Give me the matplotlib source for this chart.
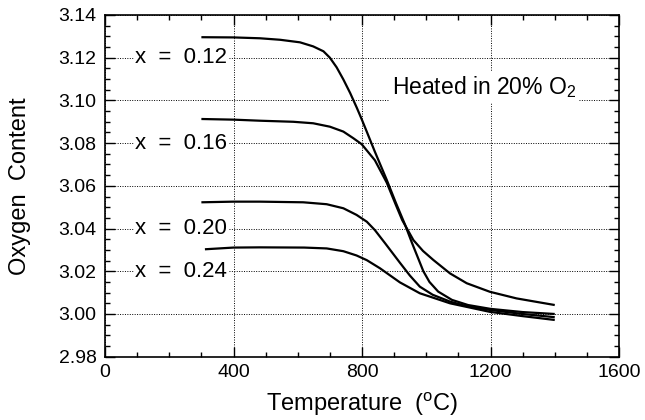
import matplotlib
matplotlib.use("Agg")
import matplotlib.pyplot as plt
from matplotlib.ticker import MultipleLocator

plt.rcParams['font.family'] = ['Liberation Sans', 'DejaVu Sans']
plt.rcParams['mathtext.fontset'] = 'custom'
plt.rcParams['mathtext.rm'] = 'Liberation Sans'
plt.rcParams['mathtext.it'] = 'Liberation Sans'

# ---- data ----
T_012 = [300, 400, 482, 545, 607, 648, 680, 700, 721, 742, 763, 784, 799, 815, 840,
         877, 905, 934, 955, 975, 991, 1010, 1037, 1080, 1130, 1200, 1300, 1400]
O_012 = [3.1296, 3.1295, 3.1291, 3.1284, 3.1272, 3.1253, 3.1230, 3.1200, 3.1155, 3.1098,
         3.1035, 3.0965, 3.0912, 3.0853, 3.0760, 3.0628, 3.0522, 3.0418, 3.0335, 3.0260,
         3.0200, 3.0150, 3.0105, 3.0066, 3.0042, 3.0024, 3.0009, 3.0000]

T_016 = [300, 400, 482, 586, 648, 700, 742, 773, 799, 840, 877, 905, 925, 960,
         990, 1022, 1074, 1126, 1198, 1281, 1350, 1400]
O_016 = [3.0913, 3.0910, 3.0905, 3.0900, 3.0893, 3.0877, 3.0854, 3.0823, 3.0795,
         3.0720, 3.0615, 3.0512, 3.0440, 3.0346, 3.0295, 3.0253, 3.0190, 3.0144, 3.0104,
         3.0073, 3.0055, 3.0042]

T_020 = [300, 400, 482, 617, 690, 742, 783, 815, 840, 872, 918, 949, 980, 1020, 1074,
         1130, 1198, 1300, 1400]
O_020 = [3.0523, 3.0526, 3.0526, 3.0523, 3.0514, 3.0495, 3.0464, 3.0432, 3.0393, 3.0331,
         3.0240, 3.0180, 3.0128, 3.0090, 3.0058, 3.0035, 3.0019, 3.0000, 2.9985]

T_024 = [311, 400, 482, 620, 690, 742, 783, 815, 856, 918, 980, 1074, 1198, 1300, 1400]
O_024 = [3.0303, 3.0311, 3.0312, 3.0311, 3.0307, 3.0294, 3.0274, 3.0252, 3.0214, 3.0148,
         3.0097, 3.0050, 3.0010, 2.9990, 2.9972]

series_labels = ["x  =  0.12", "x  =  0.16", "x  =  0.20", "x  =  0.24"]
label_y = [3.12, 3.08, 3.04, 3.02]
x_ticks = [0, 400, 800, 1200, 1600]
y_ticks = [2.98, 3.00, 3.02, 3.04, 3.06, 3.08, 3.10, 3.12, 3.14]

fig = plt.figure(figsize=(6.45, 4.2), dpi=100)
ax = fig.add_axes([0.1628, 0.1507, 0.9597 - 0.1628, 0.9643 - 0.1507])

for T, O in [(T_012, O_012), (T_016, O_016), (T_020, O_020), (T_024, O_024)]:
    ax.plot(T, O, color='black', lw=1.6, solid_capstyle='butt', zorder=3)

ax.set_xlim(0, 1600)
ax.set_ylim(2.98, 3.14)
ax.set_xticks(x_ticks)
ax.set_yticks(y_ticks)
ax.set_yticklabels([f"{v:.2f}" for v in y_ticks])
ax.xaxis.set_minor_locator(MultipleLocator(100))
ax.yaxis.set_minor_locator(MultipleLocator(0.005))
ax.tick_params(which='both', direction='in', top=True, right=True, labelsize=14, width=1.0)
ax.tick_params(which='major', length=7, pad=5)
ax.tick_params(which='minor', length=3.5)
ax.tick_params(axis='y', which='major', pad=6)
for s in ax.spines.values():
    s.set_linewidth(1.2)

ax.grid(True, which='major', ls=(0, (1, 1.5)), color='black', lw=0.7)
ax.set_axisbelow(True)

for lab, yv in zip(series_labels, label_y):
    ax.text(93, yv, lab, fontsize=16, ha='left', va='center', zorder=4,
            bbox=dict(facecolor='white', edgecolor='none', pad=1.0))

ax.text(893, 3.1029, r"Heated in 20% O$_{2}$", fontsize=16.5, ha='left', va='baseline',
        zorder=4, bbox=dict(facecolor='white', edgecolor='none', pad=2.0))

ax.set_xlabel(r"Temperature  ($^{\rm o}$C)", fontsize=17, labelpad=7)
ax.set_ylabel("Oxygen  Content", fontsize=17, labelpad=20)

fig.savefig("out.png", dpi=100)
